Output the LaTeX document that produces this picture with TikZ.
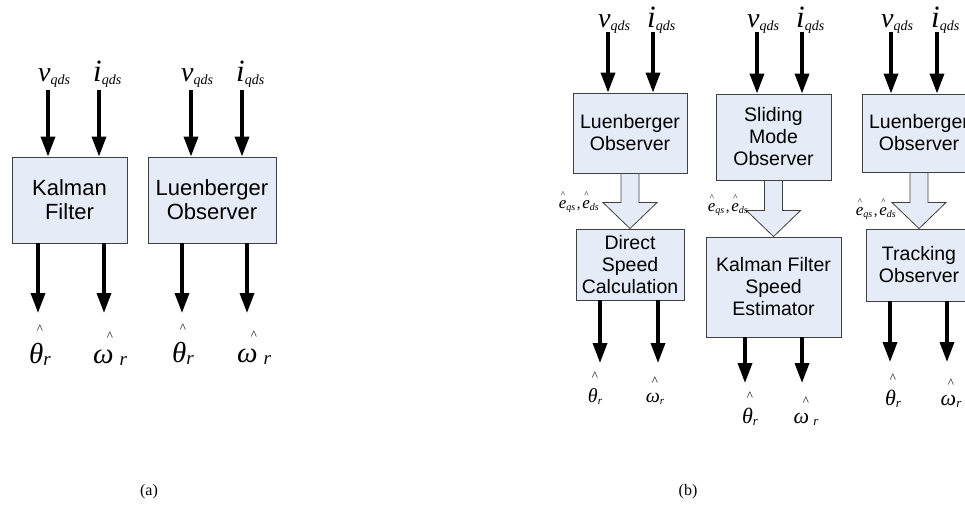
\documentclass[tikz,border=0pt]{standalone}
\usepackage{fontspec}
\setmainfont{Liberation Serif}
\setsansfont{Liberation Sans}
\usetikzlibrary{arrows.meta,calc}

\definecolor{boxfill}{HTML}{E6ECF7}
\definecolor{boxline}{HTML}{404040}

\tikzset{
  block/.style={draw=boxline,fill=boxfill,line width=0.9pt,align=center,inner sep=0pt,
    font=\sffamily\fontsize{19.5}{22}\selectfont},
  bigblock/.style={block,font=\sffamily\fontsize{22}{24}\selectfont},
  sig/.style={line width=3.5pt,-{Triangle[length=20pt,width=14pt]}},
  fat/.style={draw=boxline,fill=boxfill,line width=0.8pt},
  est/.style={inner sep=0pt,anchor=base},
  caret/.style={inner sep=0pt,font=\fontsize{13}{13}\selectfont},
}

\newcommand\vqds{{\fontsize{28}{28}\selectfont\itshape v}\raisebox{-3pt}{\fontsize{14}{14}\selectfont\itshape qds}}
\newcommand\iqds{{\fontsize{31}{31}\selectfont\itshape i}\raisebox{-3pt}{\fontsize{14}{14}\selectfont\itshape qds}}
\newcommand\est[4]{{\fontsize{#3}{#3}\selectfont\itshape #1}\raisebox{-2pt}{\fontsize{#4}{#4}\selectfont\itshape #2}}
\newcommand\ehat[1]{\rlap{\raisebox{11pt}{\fontsize{9}{9}\selectfont\hspace{2pt}\textasciicircum}}{\fontsize{17}{17}\selectfont\itshape e}\raisebox{-2pt}{\fontsize{10}{10}\selectfont\itshape #1}}
\newcommand\eqds{\ehat{qs}\,{\fontsize{15}{15}\selectfont,}\,\ehat{ds}}

\begin{document}
\begin{tikzpicture}[x=1pt,y=-1pt]
\useasboundingbox (0,0) rectangle (965,514);
\clip (0,0) rectangle (965,514);

% (a)
\node[bigblock,minimum width=115,minimum height=86] (kf) at (69.5,200) {Kalman\\Filter};
\node[bigblock,minimum width=128,minimum height=86] (lo) at (212,200) {Luenberger\\Observer};

% (b)
\node[block,minimum width=114,minimum height=80] (lo1) at (630,133) {Luenberger\\Observer};
\node[block,minimum width=115,minimum height=86] (smo) at (773.5,137) {Sliding\\Mode\\Observer};
\node[block,minimum width=114,minimum height=78] (lo2) at (919,133) {Luenberger\\Observer};
\node[block,minimum width=108,minimum height=71] (dsc) at (630,264.5) {Direct\\Speed\\Calculation};
\node[block,minimum width=135,minimum height=100] (kfse) at (773.5,287) {Kalman Filter\\Speed\\Estimator};
\node[block,minimum width=106,minimum height=72] (tro) at (919,265) {Tracking\\Observer};

% fat arrows between observers
\foreach \a/\b in {lo1/dsc,smo/kfse,lo2/tro}
  \draw[fat] (\b.north) -- ++(-27,-26) -- ++(18,0) -- ($(\a.south)+(-9,0)$)
    -- ++(18,0) -- ($(\b.north)+(9,-26)$) -- ++(18,0) -- cycle;

\node[anchor=base east,inner sep=0pt] (e1) at (599,208) {\eqds};
\node[anchor=base east,inner sep=0pt] (e2) at (748,211) {\eqds};
\node[anchor=base east,inner sep=0pt] (e3) at (896,215) {\eqds};

% inputs
\foreach \x/\y/\b in {48/90/kf,99/90/kf,191/90/lo,242/90/lo,
                      608/32/lo1,653/32/lo1,757/32/smo,802/32/smo,891/32/lo2,937/32/lo2}{
  \coordinate (in-\x) at (\x,\y);
  \draw[sig] (in-\x) -- (in-\x |- \b.north);
}
\foreach \x/\y in {48/81,191/81,608/27,757/27,891/27}
  \node[anchor=base west,inner sep=0pt] (v-\x) at (\x-10,\y) {\vqds};
\foreach \x/\y in {99/81,242/81,653/27,802/27,937/27}
  \node[anchor=base west,inner sep=0pt] (i-\x) at (\x-6,\y) {\iqds};

% outputs
\foreach \x/\y/\b in {38/313/kf,104/313/kf,182/313/lo,247/313/lo,
                      600/363/dsc,658/363/dsc,745/383/kfse,802/383/kfse,890/362/tro,947/362/tro}{
  \coordinate (out-\x) at (\x,\y);
  \draw[sig] (out-\x |- \b.south) -- (out-\x);
}

\node[est,label={[caret,label distance=9pt]above:\textasciicircum}] (th-a1) at (40,363) {\est{θ}{r}{29}{19}};
\node[est,label={[caret,label distance=9pt]above:\textasciicircum}] (om-a1) at (110,363) {\est{ω\hspace{6pt}}{r}{29}{19}};
\node[est,label={[caret,label distance=9pt]above:\textasciicircum}] (th-a2) at (183,362) {\est{θ}{r}{29}{19}};
\node[est,label={[caret,label distance=9pt]above:\textasciicircum}] (om-a2) at (254,362) {\est{ω\hspace{6pt}}{r}{29}{19}};

\node[est,label={[caret,label distance=7pt]above:\textasciicircum}] (th-b1) at (595,402) {\est{θ}{r}{20}{11}};
\node[est,label={[caret,label distance=7pt]above:\textasciicircum}] (om-b1) at (655,402) {\est{ω}{r}{20}{11}};
\node[est,label={[caret,label distance=7pt]above:\textasciicircum}] (th-b2) at (750,423) {\est{θ}{r}{22}{13}};
\node[est,label={[caret,label distance=7pt]above:\textasciicircum}] (om-b2) at (806,423) {\est{ω\hspace{4pt}}{r}{22}{13}};
\node[est,label={[caret,label distance=7pt]above:\textasciicircum}] (th-b3) at (893,405) {\est{θ}{r}{22}{13}};
\node[est,label={[caret,label distance=7pt]above:\textasciicircum}] (om-b3) at (951,405) {\est{ω}{r}{22}{13}};

% captions
\node[font=\fontsize{16}{16}\selectfont] (cap-a) at (149,492) {(a)};
\node[font=\fontsize{16}{16}\selectfont] (cap-b) at (688,492) {(b)};
\end{tikzpicture}
\end{document}
